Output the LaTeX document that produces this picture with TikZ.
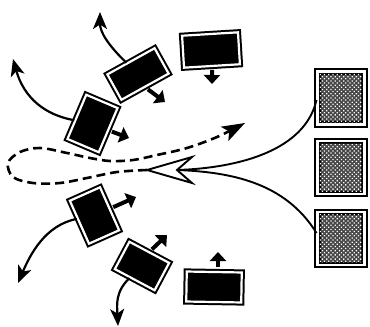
\documentclass[tikz,border=0pt]{standalone}
\usetikzlibrary{arrows.meta,calc,patterns.meta}
\begin{document}
\begin{tikzpicture}[x=1pt,y=-1pt,
  card/.style={draw=black, double=white, fill=black, line width=2pt, double distance=2.2pt, inner sep=0pt},
  sq/.style={draw=black, double=white, fill=black!72, line width=2pt, double distance=2.6pt, inner sep=0pt, minimum width=47pt, minimum height=53pt},
  dots/.style={pattern={Dots[distance=3pt,radius=0.9pt,angle=45]}, pattern color=white},
  push/.style={line width=4pt, -{Triangle[length=9pt,width=16pt]}, shorten <=3pt},
  swing/.style={line width=2.2pt, -{Stealth[length=17pt,width=14pt,inset=4.5pt]}},
  flow/.style={line width=1.9pt},
  loopline/.style={line width=2.6pt, dash pattern=on 9pt off 5pt, -{Stealth[length=23pt,width=16pt,inset=5pt]}}]
\useasboundingbox (0,0) rectangle (370,327);

% squares
\node[sq] (S1) at (341,98) {};
\node[sq] (S2) at (341,167.5) {};
\node[sq] (S3) at (341,238.5) {};
\foreach \s in {S1,S2,S3}
  \fill[dots] ([shift={(3.3,3.3)}]\s.north west) rectangle ([shift={(-3.3,-3.3)}]\s.south east);

% cards
\node[card, minimum width=56pt, minimum height=32pt, rotate=3.5] (A) at (211,50) {};
\node[card, minimum width=54pt, minimum height=29pt, rotate=29] (B) at (138,74) {};
\node[card, minimum width=34pt, minimum height=48pt, rotate=-23] (C) at (92.5,123.5) {};
\node[card, minimum width=33pt, minimum height=47pt, rotate=24] (D) at (94.5,215.5) {};
\node[card, minimum width=45pt, minimum height=31pt, rotate=-28] (E) at (142,266) {};
\node[card, minimum width=55pt, minimum height=30pt, rotate=-1] (F) at (214,287) {};

% coordinates
\coordinate (o) at (147,170);
\coordinate (n) at (177,170);
\coordinate (dt) at (245,123);
\coordinate (ta) at (212,84);
\coordinate (tb) at (165,102);
\coordinate (tc) at (129,138);
\coordinate (td) at (136,197);
\coordinate (te) at (167,235);
\coordinate (tf) at (218,252);
\coordinate (fb) at (218,270);
\coordinate (sb) at (100,12);
\coordinate (sc) at (13,59);
\coordinate (sd) at (18,283);
\coordinate (se) at (118,326);

% small push arrows
\draw[push] (A.south) -- (ta);
\draw[push] (B.south) -- (tb);
\draw[push] (C.east) -- (tc);
\draw[push] (D.east) -- (td);
\draw[push] (E.north) -- (te);
\draw[push] (fb) -- (tf);

% swing arrows
\draw[swing] (B) .. controls (108,45) and (100,32) .. (sb);
\draw[swing] (C) .. controls (45,115) and (24,98) .. (sc);
\draw[swing] (D) .. controls (45,225) and (30,255) .. (sd);
\draw[swing] (E) .. controls (115,292) and (117,305) .. (se);

% dashed loop
\draw[loopline] plot[smooth, tension=0.55] coordinates {(o) (117,172) (87,178) (60,183) (33,183) (13,177) (8,163) (20,152) (40,148) (67,153) (90,158) (110,161) (133,160) (157,155) (187,148) (217,137) (dt)};

% solid flows
\draw[flow] (S1.west |- 0,100) .. controls (305,150) and (240,168) .. (n);
\draw[flow] (S3.west |- 0,233) .. controls (285,182) and (230,172) .. (n);
\draw[flow, fill=white, line join=miter] (o) -- (192,157) -- (n) -- (192,183) -- cycle;
\end{tikzpicture}
\end{document}
